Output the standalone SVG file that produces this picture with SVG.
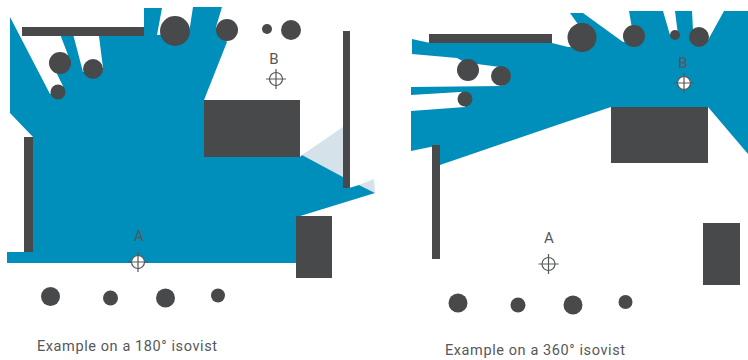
<svg xmlns="http://www.w3.org/2000/svg" width="748" height="360" viewBox="0 0 748 360">
<style>
.iso{fill:#008fba}
.light{fill:#d5e2ea}
.solid{fill:#48494b}
.tgt circle{fill:#fff;stroke:#55585a;stroke-width:1.2}
.tgt path{stroke:#55585a;stroke-width:1.2;fill:none}
.lbl{font-family:"Roboto","Liberation Sans",sans-serif;font-size:15px;font-weight:400;fill:#55585a;text-anchor:middle}
.cap{font-family:"Roboto","Liberation Sans",sans-serif;font-size:14.5px;font-weight:400;fill:#55585a}
</style>
<defs>
<g id="target" class="tgt"><circle r="6.500"/><path d="M-10 0H10M0-10V10"/></g>
</defs>
<g id="left-isovist">
<polygon class="light" points="302,155 343,127 343,177"/>
<polygon class="light" points="359,185 374,179 375,193"/>
<polygon class="iso" points="10,17 50,94 63,86 57,74 68,55 60,34 73,34 83,72 103,68 99,36 144,36 144,8 162,8 157,35 189,33 193,7 222,7 216,27 227,42 204,100 204,157 300,157 302,155 343,177 343,188 349,188 359,185 375,193 297,217 297,263 7,263 7,252 33,252 33,137 10,113"/>
</g>
<g id="right-isovist">
<polygon class="iso" points="412,39 430,43 552,43 568,47 582,47 582,30 570,13 583,13 623,42 634,40 629,11 663,11 670,35 678,35 675,11 692,11 693,30 708,40 724,11 748,11 748,154 708,107 611,107 560,124 440,165 440,145 411,151 411,111 465,107 465,92 460,92 411,95 411,87 503,86 501,67 500,67 477,64 468,64 457,58 412,54"/>
</g>
<g id="left-plan">
<rect class="solid" x="22" y="27" width="122" height="9"/>
<rect class="solid" x="24" y="137" width="9" height="115"/>
<rect class="solid" x="343" y="31" width="7" height="157"/>
<rect class="solid" x="204" y="100" width="96" height="57"/>
<rect class="solid" x="296" y="216" width="36" height="62"/>
<circle class="solid" cx="175" cy="31" r="15"/>
<circle class="solid" cx="227" cy="30" r="11"/>
<circle class="solid" cx="60" cy="63" r="11"/>
<circle class="solid" cx="93" cy="69" r="10"/>
<circle class="solid" cx="58" cy="92" r="7.500"/>
<circle class="solid" cx="267" cy="29" r="5"/>
<circle class="solid" cx="291" cy="30" r="10"/>
<circle class="solid" cx="50.500" cy="296.500" r="9.500"/>
<circle class="solid" cx="110.500" cy="298" r="7.500"/>
<circle class="solid" cx="165.500" cy="298" r="9.500"/>
<circle class="solid" cx="218" cy="295.500" r="7"/>
</g>
<g id="right-plan">
<rect class="solid" x="429" y="34" width="123" height="9"/>
<rect class="solid" x="432" y="145" width="8" height="114"/>
<rect class="solid" x="611" y="107" width="97" height="56"/>
<rect class="solid" x="703" y="223" width="37" height="62"/>
<circle class="solid" cx="582" cy="37.500" r="14.500"/>
<circle class="solid" cx="634" cy="36" r="11"/>
<circle class="solid" cx="675" cy="35" r="5"/>
<circle class="solid" cx="699" cy="37" r="10"/>
<circle class="solid" cx="468" cy="70" r="11"/>
<circle class="solid" cx="501" cy="76" r="10"/>
<circle class="solid" cx="465" cy="99" r="7.500"/>
<circle class="solid" cx="458" cy="303" r="9.500"/>
<circle class="solid" cx="518" cy="305" r="7.500"/>
<circle class="solid" cx="573" cy="305" r="9.500"/>
<circle class="solid" cx="625.500" cy="302" r="7"/>
</g>
<g id="point-a-left"><text class="lbl" x="139" y="241">A</text><use href="#target" x="138" y="262"/></g>
<g id="point-b-left"><text class="lbl" x="274" y="64">B</text><use href="#target" x="276" y="79"/></g>
<g id="point-a-right"><text class="lbl" x="549" y="243">A</text><use href="#target" x="548.500" y="264"/></g>
<g id="point-b-right"><text class="lbl" x="683" y="68">B</text><use href="#target" x="684" y="83"/></g>
<g id="captions">
<text class="cap" x="37" y="351" textLength="180">Example on a 180° isovist</text>
<text class="cap" x="445" y="355" textLength="180">Example on a 360° isovist</text>
</g>
</svg>
